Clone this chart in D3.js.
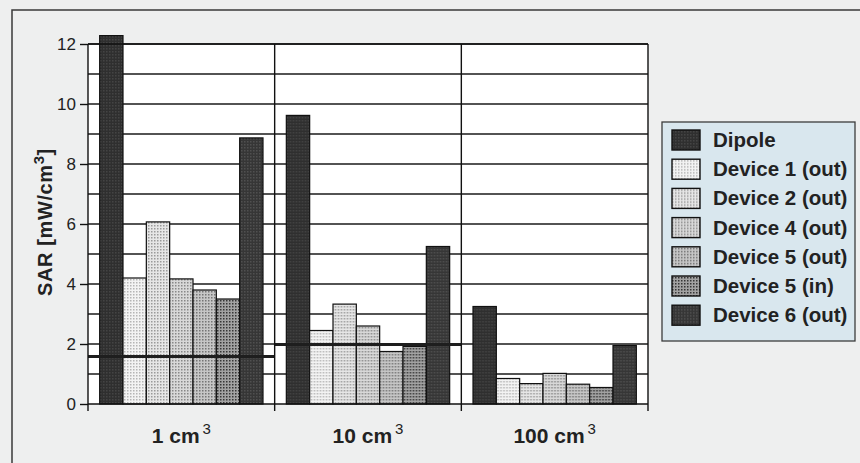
<!DOCTYPE html>
<html>
<head>
<meta charset="utf-8">
<script src="https://cdn.jsdelivr.net/npm/d3@7.9.0/dist/d3.min.js"></script>
<style>
  html, body { margin: 0; padding: 0; background: #eeefef; }
  svg { display: block; font-family: "Liberation Sans", Arial, sans-serif; }
</style>
</head>
<body>
<svg id="chart" width="860" height="463"></svg>
<script>
// volumes the SAR is averaged over
const categories = ['1', '10', '100'];
const series = ['Dipole', 'Device 1 (out)', 'Device 2 (out)', 'Device 4 (out)',
                'Device 5 (out)', 'Device 5 (in)', 'Device 6 (out)'];

// SAR values [mW/cm3], one array per series, ordered like categories
const dipole   = [12.28, 9.62, 3.25];
const device1  = [4.2, 2.45, 0.85];
const device2  = [6.07, 3.33, 0.68];
const device4  = [4.17, 2.6, 1.02];
const device5o = [3.8, 1.75, 0.66];
const device5i = [3.5, 1.92, 0.55];
const device6  = [8.87, 5.25, 1.95];

// thick limit line drawn across each group (none for 100 cm3)
const limitLines = [1.58, 1.98, null];

const yTicks = [0, 2, 4, 6, 8, 10, 12];

const values = [dipole, device1, device2, device4, device5o, device5i, device6];

const svg = d3.select('#chart');

// fill look per series: base colour + halftone dot colour
const fills = [
  { base: '#2f2f2f', dot: '#444444' },
  { base: '#f3f3f3', dot: '#b5b5b5' },
  { base: '#e6e6e6', dot: '#9a9a9a' },
  { base: '#d8d8d8', dot: '#888888' },
  { base: '#c6c6c6', dot: '#757575' },
  { base: '#a2a2a2', dot: '#363636' },
  { base: '#363636', dot: '#505050' }
];

const defs = svg.append('defs');
fills.forEach((f, i) => {
  const p = defs.append('pattern')
    .attr('id', 'pat' + i)
    .attr('width', 3).attr('height', 3)
    .attr('patternUnits', 'userSpaceOnUse');
  p.append('rect').attr('width', 3).attr('height', 3).attr('fill', f.base);
  p.append('rect').attr('width', 1.5).attr('height', 1.5).attr('fill', f.dot);
});

// page background + scanned frame
svg.append('rect').attr('width', 860).attr('height', 463).attr('fill', '#eeefef');
svg.append('rect')
  .attr('x', 12).attr('y', 10).attr('width', 870).attr('height', 470)
  .attr('fill', 'none').attr('stroke', '#3a3a3a').attr('stroke-width', 1.5);

const plotLeft = 88, plotRight = 648, plotTop = 44, plotBottom = 404;

const y = d3.scaleLinear().domain([0, 12]).range([plotBottom, plotTop]);
const x0 = d3.scaleBand().domain(categories).range([plotLeft, plotRight]).padding(0);
const x1 = d3.scaleBand().domain(series).range([0, x0.bandwidth()])
  .paddingInner(0).paddingOuter(0.5);

// plot area
svg.append('rect')
  .attr('x', plotLeft).attr('y', plotTop)
  .attr('width', plotRight - plotLeft).attr('height', plotBottom - plotTop)
  .attr('fill', '#ffffff');

// horizontal grid every 1 unit
svg.append('g')
  .selectAll('line')
  .data(d3.range(1, 13))
  .join('line')
  .attr('x1', plotLeft).attr('x2', plotRight)
  .attr('y1', d => y(d)).attr('y2', d => y(d))
  .attr('stroke', '#1a1a1a').attr('stroke-width', 1.4);

// bars
const rows = categories.map((c, ci) => ({
  cat: c,
  bars: series.map((s, si) => ({ s, si, v: values[si][ci] }))
}));

svg.append('g')
  .selectAll('g')
  .data(rows)
  .join('g')
  .attr('transform', d => `translate(${x0(d.cat)},0)`)
  .selectAll('rect')
  .data(d => d.bars)
  .join('rect')
  .attr('x', d => x1(d.s))
  .attr('width', x1.bandwidth())
  .attr('y', d => y(d.v))
  .attr('height', d => y(0) - y(d.v))
  .attr('fill', d => `url(#pat${d.si})`)
  .attr('stroke', '#111')
  .attr('stroke-width', 1.2);

// limit lines on top of the bars
svg.append('g')
  .selectAll('line')
  .data(categories.map((c, i) => ({ c, v: limitLines[i] })).filter(d => d.v != null))
  .join('line')
  .attr('x1', d => x0(d.c)).attr('x2', d => x0(d.c) + x0.bandwidth())
  .attr('y1', d => y(d.v)).attr('y2', d => y(d.v))
  .attr('stroke', '#1e1e1e').attr('stroke-width', 3);

// frame: left axis, group dividers, right edge, baseline
const vlines = [plotLeft, ...categories.slice(1).map(c => x0(c)), plotRight];
svg.append('g')
  .selectAll('line')
  .data(vlines)
  .join('line')
  .attr('x1', d => d).attr('x2', d => d)
  .attr('y1', plotTop).attr('y2', plotBottom + 7)
  .attr('stroke', '#111').attr('stroke-width', 1.4);

svg.append('line')
  .attr('x1', plotLeft).attr('x2', plotRight)
  .attr('y1', y(0)).attr('y2', y(0))
  .attr('stroke', '#111').attr('stroke-width', 1.6);
svg.append('line')
  .attr('x1', plotLeft).attr('x2', plotRight)
  .attr('y1', y(12)).attr('y2', y(12))
  .attr('stroke', '#111').attr('stroke-width', 1.4);

// y axis ticks + labels
const yAxis = svg.append('g')
  .attr('transform', `translate(${plotLeft},0)`)
  .call(d3.axisLeft(y).tickValues(yTicks).tickSize(8).tickPadding(4).tickSizeOuter(0));
yAxis.select('.domain').remove();
yAxis.selectAll('.tick line').attr('stroke', '#111').attr('stroke-width', 1.4);
yAxis.selectAll('.tick text')
  .attr('font-size', 17).attr('fill', '#222')
  .attr('font-family', '"Liberation Sans", Arial, sans-serif');

// y axis title
const yTitle = svg.append('text')
  .attr('transform', 'translate(52,222) rotate(-90)')
  .attr('text-anchor', 'middle')
  .attr('font-size', 20).attr('font-weight', 'bold').attr('fill', '#222')
  .attr('letter-spacing', 0.6);
yTitle.append('tspan').text('SAR [mW/cm');
yTitle.append('tspan').attr('font-size', 15).attr('dy', -8).text('3');
yTitle.append('tspan').attr('dy', 8).text(']');

// category labels
const catLabels = svg.append('g')
  .selectAll('text')
  .data(categories)
  .join('text')
  .attr('x', d => x0(d) + x0.bandwidth() / 2)
  .attr('y', 443)
  .attr('text-anchor', 'middle')
  .attr('font-size', 21).attr('font-weight', 'bold').attr('fill', '#222');
catLabels.append('tspan').text(d => d + ' cm');
catLabels.append('tspan').attr('font-size', 15).attr('font-weight', 'normal')
  .attr('dx', 3).attr('dy', -9).text('3');

// legend
const lx = 662, ly = 122, rowH = 29.2;
svg.append('rect')
  .attr('x', lx).attr('y', ly).attr('width', 193).attr('height', 219)
  .attr('fill', '#d9e7ee').attr('stroke', '#3c3c3c').attr('stroke-width', 1.3);

const item = svg.append('g')
  .selectAll('g')
  .data(series)
  .join('g')
  .attr('transform', (d, i) => `translate(${lx + 10},${ly + 18 + i * rowH})`);
item.append('rect')
  .attr('x', 0).attr('y', -10).attr('width', 28).attr('height', 20)
  .attr('fill', (d, i) => `url(#pat${i})`)
  .attr('stroke', '#111').attr('stroke-width', 1.4);
item.append('text')
  .attr('x', 41).attr('y', 7)
  .attr('font-size', 20.5).attr('font-weight', 'bold').attr('fill', '#222')
  .text(d => d);
</script>
</body>
</html>
